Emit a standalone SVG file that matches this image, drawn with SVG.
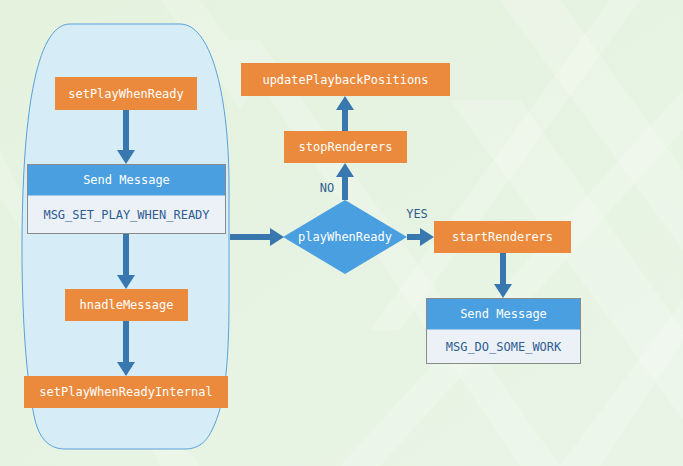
<svg xmlns="http://www.w3.org/2000/svg" width="683" height="466" viewBox="0 0 683 466">
<defs>
<linearGradient id="bg" x1="0" y1="0" x2="1" y2="1">
<stop offset="0" stop-color="#e4f2de"/>
<stop offset="1" stop-color="#e9f4e6"/>
</linearGradient>
<marker id="ah" markerUnits="userSpaceOnUse" markerWidth="14" markerHeight="18" viewBox="0 0 14 18" refX="0" refY="9" orient="auto">
<path d="M0,0 L14,9 L0,18 Z" fill="#3878ae"/>
</marker>
</defs>
<style>
.t{font-family:"DejaVu Sans Mono","Liberation Mono",monospace;font-size:12px;text-anchor:middle;dominant-baseline:central}
.w{fill:#ffffff}
.d{fill:#2f5d92}
.or{fill:#eb8a3c}
.hd{fill:#4a9fe0}
.bd{fill:#ecf1f8;stroke:#8a8a8a;stroke-width:1}
.ar{stroke:#3878ae;stroke-width:6;fill:none;marker-end:url(#ah)}
.st{fill:#ffffff;opacity:0.2}
</style>
<rect x="0" y="0" width="683" height="466" fill="url(#bg)"/>
<g id="background-stripes">
<polygon class="st" points="500,0 560,0 683,170 683,250" />
<polygon class="st" points="610,0 640,0 400,330 370,330" />
<polygon class="st" points="683,90 683,130 380,466 340,466" />
<polygon class="st" points="450,100 520,100 683,330 683,420" />
<polygon class="st" points="230,40 260,40 560,466 520,466" />
<polygon class="st" points="683,300 683,340 600,466 560,466" />
<polygon class="st" points="0,150 0,200 200,466 160,466" />
<polygon class="st" points="160,0 200,0 260,80 240,110" />
</g>
<g id="capsule">
<path d="M70 24 L180 24 C210 24 228 90 229 180 L229 300 C229 380 222 410 212 430 C205 445 195 449 185 449 L65 449 C50 449 40 440 35 420 C28 390 22 330 22 250 C22 120 35 24 70 24 Z" fill="#d6ecf7" stroke="#5aa0dc" stroke-width="1"/>
</g>
<g id="connectors">
<line class="ar" x1="126" y1="110" x2="126" y2="150"/>
<line class="ar" x1="126" y1="234" x2="126" y2="275"/>
<line class="ar" x1="126" y1="321" x2="126" y2="362"/>
<line class="ar" x1="230" y1="237" x2="270" y2="237"/>
<line class="ar" x1="345" y1="200" x2="345" y2="177"/>
<line class="ar" x1="345" y1="131" x2="345" y2="110"/>
<line class="ar" x1="407" y1="237" x2="420" y2="237"/>
<line class="ar" x1="503" y1="253" x2="503" y2="284"/>
</g>
<g id="setPlayWhenReady">
<rect class="or" x="55" y="77" width="142" height="33"/>
<text class="t w" x="126" y="93.5">setPlayWhenReady</text>
</g>
<g id="sendMessage1">
<rect class="bd" x="27.5" y="164.5" width="198" height="69"/>
<rect class="hd" x="27.5" y="164.5" width="198" height="31"/>
<rect x="27.5" y="164.5" width="198" height="69" fill="none" stroke="#8a8a8a" stroke-width="1"/>
<text class="t w" x="126.5" y="180">Send Message</text>
<text class="t d" x="126.5" y="214.5">MSG_SET_PLAY_WHEN_READY</text>
</g>
<g id="hnadleMessage">
<rect class="or" x="65" y="289" width="123" height="32"/>
<text class="t w" x="126.5" y="305">hnadleMessage</text>
</g>
<g id="setPlayWhenReadyInternal">
<rect class="or" x="24" y="376" width="204" height="32"/>
<text class="t w" x="126" y="392">setPlayWhenReadyInternal</text>
</g>
<g id="playWhenReady">
<polygon points="345,200 407,237 345,274 283,237" fill="#4a9fe0"/>
<text class="t w" x="345" y="237">playWhenReady</text>
</g>
<g id="stopRenderers">
<rect class="or" x="284" y="131" width="123" height="32"/>
<text class="t w" x="345.5" y="147">stopRenderers</text>
</g>
<g id="updatePlaybackPositions">
<rect class="or" x="241" y="63" width="209" height="33"/>
<text class="t w" x="345.5" y="79.5">updatePlaybackPositions</text>
</g>
<g id="startRenderers">
<rect class="or" x="434" y="221" width="137" height="32"/>
<text class="t w" x="502.5" y="237">startRenderers</text>
</g>
<g id="sendMessage2">
<rect class="bd" x="426.5" y="298.5" width="154" height="65"/>
<rect class="hd" x="426.5" y="298.5" width="154" height="31"/>
<rect x="426.5" y="298.5" width="154" height="65" fill="none" stroke="#8a8a8a" stroke-width="1"/>
<text class="t w" x="503.5" y="314">Send Message</text>
<text class="t d" x="503.5" y="347">MSG_DO_SOME_WORK</text>
</g>
<g id="labels">
<text class="t d" x="327" y="188">NO</text>
<text class="t d" x="417" y="214">YES</text>
</g>
</svg>
